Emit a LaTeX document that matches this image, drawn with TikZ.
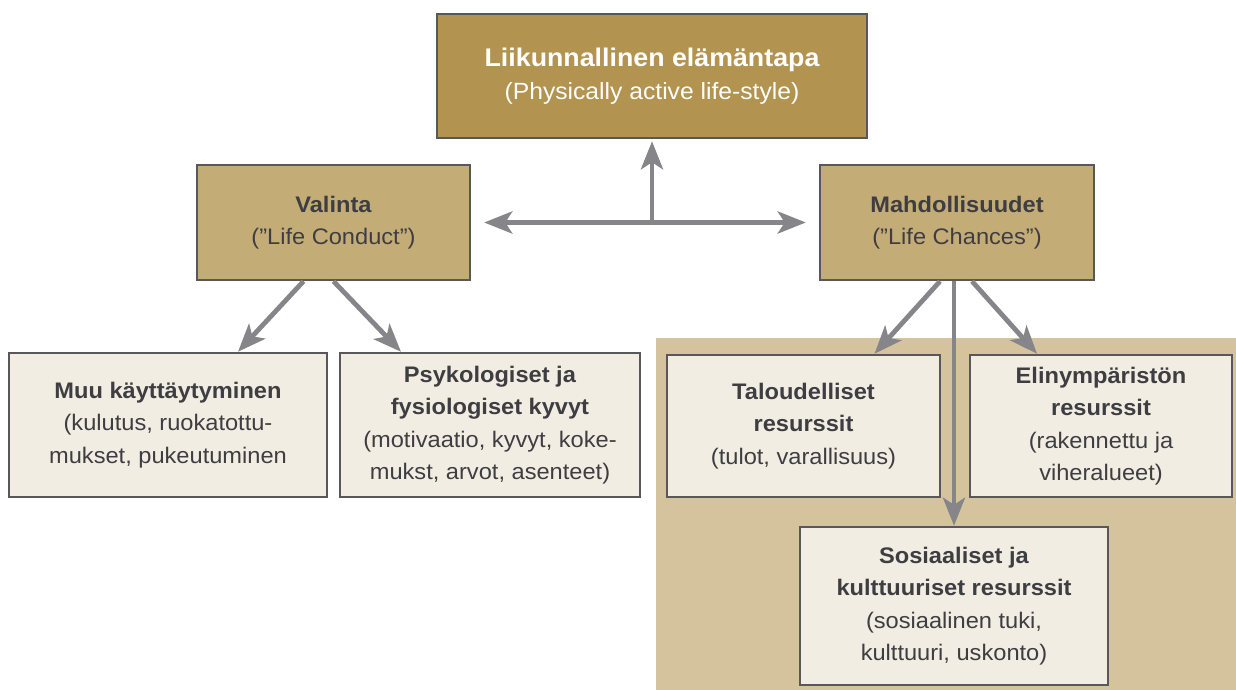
\documentclass[tikz,border=0pt]{standalone}
\usepackage{fontspec}
\setmainfont{Liberation Sans}[FakeStretch=1.05]
\usetikzlibrary{arrows.meta}
\definecolor{goldtop}{HTML}{B2934F}
\definecolor{goldmid}{HTML}{C4AC76}
\definecolor{tanback}{HTML}{D5C39D}
\definecolor{creambox}{HTML}{F2EDE3}
\definecolor{edgegray}{HTML}{58585A}
\definecolor{arrowgray}{HTML}{85858A}
\definecolor{textgray}{HTML}{3E3E42}
\begin{document}
\begin{tikzpicture}[x=1pt,y=-1pt,
    box/.style={draw=edgegray,line width=2.5pt,align=center,text=textgray,inner sep=0pt,
        font=\fontsize{22.5}{32.5}\selectfont},
    toplevel/.style={box,fill=goldtop,text=white,font=\fontsize{23.5}{33}\selectfont},
    midlevel/.style={box,fill=goldmid},
    lowlevel/.style={box,fill=creambox},
    arr/.style={line width=4.8pt,draw=arrowgray,>={Stealth[length=28pt,width=22pt,inset=7pt]},->},
]
    \useasboundingbox (0,0) rectangle (1236,690);
    \fill[tanback] (656,338) rectangle (1236,690);
    \node[toplevel,minimum width=430pt,minimum height=124pt] (lifestyle) at (652,76)
        {{\fontsize{25.5}{33}\selectfont\bfseries Liikunnallinen elämäntapa}\\(Physically active life-style)};
    \node[midlevel,minimum width=273pt,minimum height=115pt] (valinta) at (333.5,222.5)
        {\textbf{Valinta}\\(”Life Conduct”)};
    \node[midlevel,minimum width=274pt,minimum height=115pt] (mahd) at (957,222.5)
        {\textbf{Mahdollisuudet}\\(”Life Chances”)};
    \node[lowlevel,minimum width=318pt,minimum height=144pt] (muu) at (168,425)
        {\textbf{Muu käyttäytyminen}\\(kulutus, ruokatottu-\\mukset, pukeutuminen};
    \node[lowlevel,minimum width=300pt,minimum height=144pt] (psyk) at (490,425)
        {\textbf{Psykologiset ja}\\\textbf{fysiologiset kyvyt}\\(motivaatio, kyvyt, koke-\\mukst, arvot, asenteet)};
    \node[lowlevel,minimum width=273pt,minimum height=142pt] (talous) at (803.5,426)
        {\textbf{Taloudelliset}\\\textbf{resurssit}\\(tulot, varallisuus)};
    \node[lowlevel,minimum width=262pt,minimum height=142pt] (elin) at (1101,426)
        {\textbf{Elinympäristön}\\\textbf{resurssit}\\(rakennettu ja\\viheralueet)};
    \node[lowlevel,minimum width=308pt,minimum height=158pt] (sos) at (954,606)
        {\textbf{Sosiaaliset ja}\\\textbf{kulttuuriset resurssit}\\(sosiaalinen tuki,\\kulttuuri, uskonto)};
    \coordinate (hub) at (652,222);
    \draw[arr] (hub) -- ([yshift=-2pt]lifestyle.south -| hub);
    \draw[arr,<->,shorten <=13pt,shorten >=13pt] (valinta) -- (mahd);
    \draw[arr] ([xshift=-30pt]valinta.south) -- ([xshift=70pt]muu.north);
    \draw[arr] (valinta.south) -- ([xshift=-89pt]psyk.north);
    \draw[arr] ([xshift=-17pt]mahd.south) -- ([xshift=71pt]talous.north);
    \draw[arr] (mahd.south -| sos.north) -- (sos.north);
    \draw[arr] ([xshift=15pt]mahd.south) -- ([xshift=-64pt]elin.north);
\end{tikzpicture}
\end{document}
